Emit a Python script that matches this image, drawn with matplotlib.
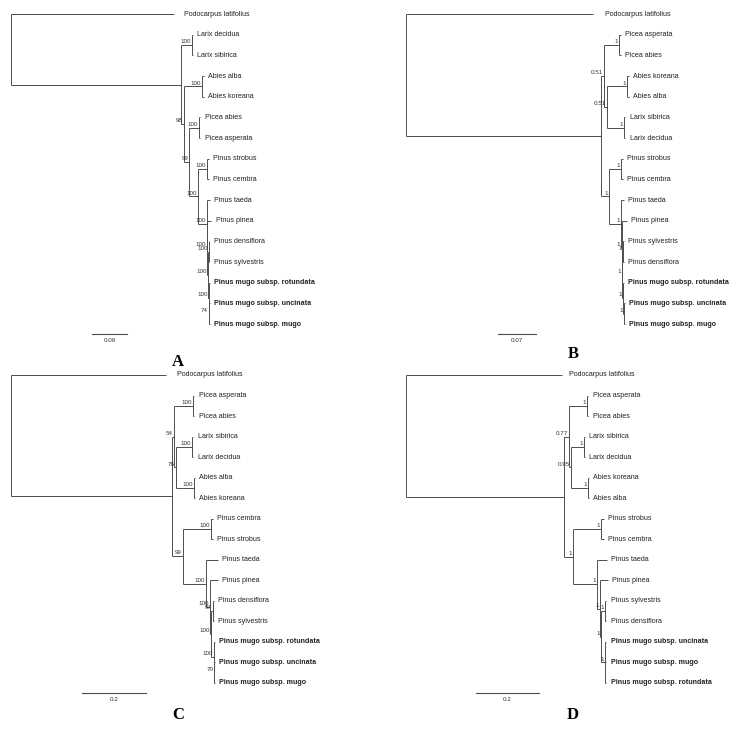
import matplotlib.pyplot as plt

# four trees in newick form (branch lengths)
tree_a = ("(Podocarpus latifolius:0.420,((Larix decidua:0.003,Larix sibirica:0.003)100:0.028,"
          "((Abies alba:0.004,Abies koreana:0.004)100:0.046,((Picea abies:0.003,Picea asperata:0.003)100:0.026,"
          "((Pinus strobus:0.004,Pinus cembra:0.004)100:0.023,(Pinus taeda:0.008,(Pinus pinea:0.010,"
          "((Pinus densiflora:0.002,Pinus sylvestris:0.002)100:0.002,(Pinus mugo subsp. rotundata:0.003,"
          "(Pinus mugo subsp. uncinata:0.002,Pinus mugo subsp. mugo:0.002)74:0.001)100:0.002)100:0.001)100:0.001)"
          "100:0.023)100:0.023)99:0.013)98:0.008):0.437);")

tree_b = ("(Podocarpus latifolius:0.344,(((Picea asperata:0.003,Picea abies:0.003)1:0.028,"
          "((Abies koreana:0.003,Abies alba:0.003)1:0.037,(Larix sibirica:0.003,Larix decidua:0.003)1:0.031)0.51:0.0055)"
          "0.51:0.0055,((Pinus strobus:0.004,Pinus cembra:0.004)1:0.022,(Pinus taeda:0.006,(Pinus pinea:0.010,"
          "((Pinus sylvestris:0.002,Pinus densiflora:0.002)1:0.002,(Pinus mugo subsp. rotundata:0.002,"
          "(Pinus mugo subsp. uncinata:0.002,Pinus mugo subsp. mugo:0.002)1:0.001)1:0.002)1:0.001)1:0.001)1:0.022)"
          "1:0.015):0.359);")

tree_c = ("(Podocarpus latifolius:0.484,(((Picea asperata:0.005,Picea abies:0.005)100:0.059,"
          "((Larix sibirica:0.005,Larix decidua:0.005)100:0.050,(Abies alba:0.005,Abies koreana:0.005)100:0.056)76:0.006)"
          "54:0.006,((Pinus cembra:0.006,Pinus strobus:0.006)100:0.0875,(Pinus taeda:0.037,(Pinus pinea:0.025,"
          "((Pinus densiflora:0.003,Pinus sylvestris:0.003)97:0.006,(Pinus mugo subsp. rotundata:0.003,"
          "(Pinus mugo subsp. uncinata:0.002,Pinus mugo subsp. mugo:0.002)70:0.002)100:0.009)100:0.003)100:0.0125)"
          "100:0.072)99:0.034):0.503);")

tree_d = ("(Podocarpus latifolius:0.495,(((Picea asperata:0.004,Picea abies:0.004)1:0.057,"
          "((Larix sibirica:0.004,Larix decidua:0.004)1:0.041,(Abies koreana:0.004,Abies alba:0.004)1:0.054)0.95:0.006)"
          "0.77:0.016,((Pinus strobus:0.008,Pinus cembra:0.008)1:0.089,(Pinus taeda:0.032,(Pinus pinea:0.025,"
          "((Pinus sylvestris:0.003,Pinus densiflora:0.003)1:0.013,(Pinus mugo subsp. uncinata:0.003,"
          "Pinus mugo subsp. mugo:0.003,Pinus mugo subsp. rotundata:0.003)1:0.013)1:0.003)1:0.010)1:0.076)1:0.029)"
          ":0.502);")

trees = [tree_a, tree_b, tree_c, tree_d]
scale_lengths = [0.09, 0.07, 0.2, 0.2]
scale_labels = ['0.09', '0.07', '0.2', '0.2']
panel_letters = ['A', 'B', 'C', 'D']

W, H = 742, 729
# root x (px), first leaf y (px), px per unit length, px per leaf
layouts = [(11, 14, 389, 20.67), (406, 14, 543, 20.67),
           (11, 375, 320, 20.53), (406, 375, 315, 20.53)]
bar_starts = [0.208, 0.169, 0.222, 0.222]
letter_pos = [(178, 362), (573, 354), (178, 715), (573, 715)]
outgroup_gap = [7, 8.5, 8, 5]   # label gap (pt) of the outgroup, wider in the original

LINE = '#4d4d4d'


def parse(s):
    pos = 0

    def node():
        nonlocal pos
        kids = []
        if s[pos] == '(':
            pos += 1
            kids.append(node())
            while s[pos] == ',':
                pos += 1
                kids.append(node())
            pos += 1
        start = pos
        while s[pos] not in ':,);':
            pos += 1
        name = s[start:pos]
        length = 0.0
        if s[pos] == ':':
            pos += 1
            start = pos
            while s[pos] not in ',);':
                pos += 1
            length = float(s[start:pos])
        return {'name': name, 'len': length, 'kids': kids}

    return node()


def place(nd, x0, counter):
    nd['x'] = x0 + nd['len']
    if nd['kids']:
        for k in nd['kids']:
            place(k, nd['x'], counter)
        nd['y'] = (nd['kids'][0]['y'] + nd['kids'][-1]['y']) / 2
    else:
        nd['y'] = counter[0]
        counter[0] += 1


def draw(ax, nd, gap=3, is_root=False, out_gap=3):
    if not nd['kids']:
        bold = nd['name'].startswith('Pinus mugo')
        ax.annotate(nd['name'], (nd['x'], nd['y']), xytext=(gap, 0), textcoords='offset points',
                    ha='left', va='center', fontsize=5.1, color='#222222',
                    family='Liberation Sans', weight='bold' if bold else 'normal')
        return
    ys = [k['y'] for k in nd['kids']]
    ax.plot([nd['x'], nd['x']], [min(ys), max(ys)], color=LINE, lw=0.7, solid_capstyle='butt')
    for k in nd['kids']:
        ax.plot([nd['x'], k['x']], [k['y'], k['y']], color=LINE, lw=0.7, solid_capstyle='butt')
        draw(ax, k, gap=out_gap if is_root else 3)
    if nd['name'] and not is_root:
        ax.annotate(nd['name'], (nd['x'], nd['y']), xytext=(-0.8, 0.6), textcoords='offset points',
                    ha='right', va='bottom', fontsize=4.5, color='#333333', family='Liberation Sans')


fig = plt.figure(figsize=(W / 100, H / 100), dpi=100)

for i, s in enumerate(trees):
    rx, ty, ppu, pps = layouts[i]
    ax = fig.add_axes([0, 0, 1, 1])
    ax.set_xlim(-rx / ppu, (W - rx) / ppu)
    ax.set_ylim((H - ty) / pps, -ty / pps)
    ax.axis('off')
    ax.patch.set_alpha(0)

    root = parse(s)
    root['len'] = 0.0
    place(root, 0.0, [0])
    draw(ax, root, is_root=True, out_gap=outgroup_gap[i])

    # scale bar
    x0 = bar_starts[i]
    ax.plot([x0, x0 + scale_lengths[i]], [15.5, 15.5], color=LINE, lw=0.8)
    ax.annotate(scale_labels[i], (x0 + scale_lengths[i] / 2, 15.5), xytext=(0, -2.5),
                textcoords='offset points', ha='center', va='top', fontsize=4.5,
                color='#333333', family='Liberation Sans')

    lx, ly = letter_pos[i]
    fig.text(lx / W, 1 - ly / H, panel_letters[i], ha='center', va='center',
             family='Liberation Serif', weight='bold', fontsize=12)

fig.savefig('out.png', dpi=100, facecolor='white')
